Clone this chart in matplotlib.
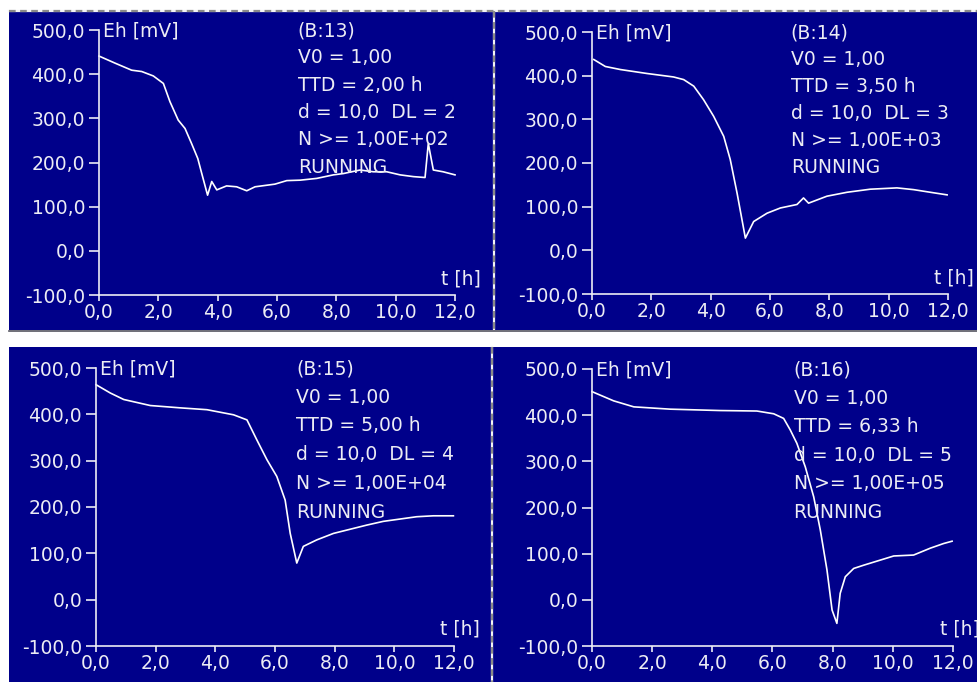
import matplotlib
matplotlib.use("Agg")
import matplotlib.pyplot as plt
from matplotlib.patches import Rectangle
from matplotlib.lines import Line2D

# ---------------- data ----------------
x_ticks = [0, 2, 4, 6, 8, 10, 12]
y_ticks = [-100, 0, 100, 200, 300, 400, 500]
x_tick_labels = ["0,0", "2,0", "4,0", "6,0", "8,0", "10,0", "12,0"]
y_tick_labels = ["-100,0", "0,0", "100,0", "200,0", "300,0", "400,0", "500,0"]

t13 = [0.0, 0.54, 1.1, 1.44, 1.83, 2.17, 2.39, 2.67, 2.9, 3.12, 3.33, 3.46, 3.66,
       3.8, 3.97, 4.3, 4.64, 4.98, 5.26, 5.93, 6.33, 6.78, 7.34, 7.9, 8.24, 8.8,
       9.25, 9.7, 10.15, 10.6, 10.99, 11.1, 11.27, 11.6, 12.0]
eh13 = [441, 425, 409, 406, 396, 379, 338, 296, 277, 243, 209, 176, 126,
        157, 138, 147, 145, 136, 145, 151, 159, 160, 164, 172, 175, 183,
        179, 179, 172, 168, 166, 243, 183, 179, 172]

t14 = [0.06, 0.45, 0.96, 1.85, 2.75, 3.09, 3.43, 3.76, 4.1, 4.44, 4.66, 4.89, 5.17,
       5.45, 5.9, 6.35, 6.91, 7.13, 7.3, 7.92, 8.6, 9.38, 10.28, 10.84, 11.4, 11.97]
eh14 = [437, 421, 414, 405, 397, 391, 376, 345, 307, 261, 208, 131, 28,
        66, 85, 97, 105, 120, 108, 124, 133, 140, 143, 139, 133, 127]

t15 = [0.0, 0.48, 0.93, 1.82, 2.82, 3.72, 4.61, 5.06, 5.39, 5.73, 6.06, 6.34, 6.51,
       6.73, 6.95, 7.4, 7.96, 8.52, 9.08, 9.63, 10.19, 10.75, 11.31, 11.98]
eh15 = [464, 446, 432, 419, 414, 410, 399, 388, 345, 302, 266, 215, 143,
        79, 115, 129, 143, 152, 161, 169, 174, 179, 181, 181]

t16 = [0.0, 0.72, 1.39, 2.6, 4.27, 5.48, 6.04, 6.37, 6.59, 6.81, 7.09, 7.37, 7.59,
       7.81, 7.98, 8.14, 8.25, 8.42, 8.7, 9.03, 9.58, 10.03, 10.69, 11.25, 11.69, 11.97]
eh16 = [451, 431, 418, 413, 410, 409, 403, 393, 368, 339, 288, 223, 151,
        65, -22, -51, 14, 50, 68, 75, 86, 95, 97, 112, 122, 127]

titles = ["(B:13)", "(B:14)", "(B:15)", "(B:16)"]
ttd = ["2,00", "3,50", "5,00", "6,33"]
dl = ["2", "3", "4", "5"]
n_thr = ["1,00E+02", "1,00E+03", "1,00E+04", "1,00E+05"]

# ---------------- styling ----------------
W, H = 978, 682
BG = "#00008a"
FG = "#ececf4"
FS = 13.5
plt.rcParams["font.family"] = ["DejaVu Sans"]

fig = plt.figure(figsize=(W / 100, H / 100), dpi=100)
fig.patch.set_facecolor("white")


def fx(x):
    return x / W


def fy(y):
    return 1 - y / H


# panel backgrounds (pixel boxes: x0, y0, x1, y1)
panels = [(9, 12, 493, 330), (495, 12, 978, 330), (9, 347, 491, 682), (493, 347, 978, 682)]
for x0, y0, x1, y1 in panels:
    fig.patches.append(Rectangle((fx(x0), fy(y1)), (x1 - x0) / W, (y1 - y0) / H,
                                 transform=fig.transFigure, facecolor=BG,
                                 edgecolor="none", zorder=0))

# separator lines
def dashed(xs, ys):
    fig.lines.append(Line2D([fx(v) for v in xs], [fy(v) for v in ys], transform=fig.transFigure,
                            color="#f4f4f4", lw=1.6, zorder=1))
    fig.lines.append(Line2D([fx(v) for v in xs], [fy(v) for v in ys], transform=fig.transFigure,
                            color="#8a8a8a", lw=1.6, dashes=(3, 2), zorder=2))


dashed([9, 978], [11, 11])
dashed([494, 494], [11, 330])
dashed([492, 492], [347, 682])
fig.lines.append(Line2D([fx(9), fx(978)], [fy(331), fy(331)], transform=fig.transFigure,
                        color="#555560", lw=1.2, zorder=1))

# axes rectangles in pixels: x(0), x(12), y(500), y(-100)
axes_px = [(99, 455, 30, 295), (592, 948, 32, 294), (96, 454, 368, 646), (592, 953, 369, 646)]
series = [(t13, eh13), (t14, eh14), (t15, eh15), (t16, eh16)]

for i, ((x0, x1, ytop, ybot), (tt, ee)) in enumerate(zip(axes_px, series)):
    ax = fig.add_axes([fx(x0), fy(ybot), (x1 - x0) / W, (ybot - ytop) / H])
    ax.set_zorder(5)
    ax.set_facecolor("none")
    ax.set_xlim(0, 12)
    ax.set_ylim(-100, 500)
    for s in ["top", "right"]:
        ax.spines[s].set_visible(False)
    for s in ["left", "bottom"]:
        ax.spines[s].set_color(FG)
        ax.spines[s].set_linewidth(1.2)
    ax.set_xticks(x_ticks)
    ax.set_xticklabels(x_tick_labels)
    ax.set_yticks(y_ticks)
    ax.set_yticklabels(y_tick_labels)
    ax.tick_params(axis="x", colors=FG, length=4, width=1.2, pad=2, labelsize=FS)
    ax.tick_params(axis="y", colors=FG, length=7, width=1.2, pad=3, labelsize=FS)

    ax.plot(tt, ee, color="white", lw=1.2, clip_on=False)

    ax.text(0.13, 497, "Eh [mV]", color=FG, fontsize=FS, ha="left", va="center", clip_on=False)
    ax.text(12.88, -63, "t [h]", color=FG, fontsize=FS, ha="right", va="center", clip_on=False)

    lines = [titles[i], "V0 = 1,00", "TTD = " + ttd[i] + " h",
             "d = 10,0  DL = " + dl[i], "N >= " + n_thr[i], "RUNNING"]
    ys = [497, 437, 375, 313, 251, 189]
    for txt, yv in zip(lines, ys):
        ax.text(6.7, yv, txt, color=FG, fontsize=FS, ha="left", va="center", clip_on=False)

fig.savefig("out.png", dpi=100, facecolor="white")
